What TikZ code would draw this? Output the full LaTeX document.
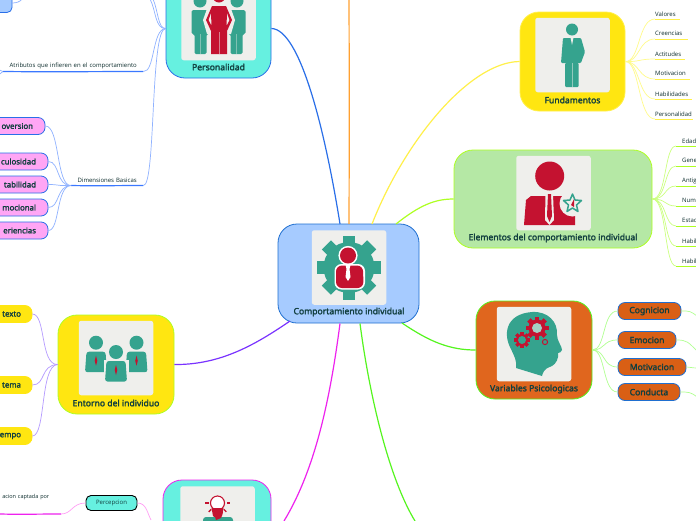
\documentclass[tikz,border=0pt]{standalone}
\usepackage{fontspec}
\setmainfont{Noto Sans}[AutoFakeBold=2.2]
\newfontfamily\smallfont{Open Sans}
\definecolor{teal1}{HTML}{35A38E}
\definecolor{red1}{HTML}{C41230}
\definecolor{tile}{HTML}{EFEFEC}
\definecolor{ink}{HTML}{123F3F}
\definecolor{cyan1}{HTML}{66F0E0}
\definecolor{blue1}{HTML}{A6CBFF}
\definecolor{blue2}{HTML}{2A6FE8}
\definecolor{blueline}{HTML}{3B78FF}
\definecolor{blue3}{HTML}{8FB2FF}
\definecolor{blue4}{HTML}{1F6FD0}
\definecolor{yellow1}{HTML}{FFE611}
\definecolor{yellow2}{HTML}{FFF04A}
\definecolor{yellow3}{HTML}{FFFB8A}
\definecolor{lime1}{HTML}{AEFF22}
\definecolor{lime2}{HTML}{CCFF80}
\definecolor{green1}{HTML}{B5E8A5}
\definecolor{green2}{HTML}{55F51F}
\definecolor{green3}{HTML}{B0FF90}
\definecolor{orange1}{HTML}{E0661E}
\definecolor{orange2}{HTML}{D95F15}
\definecolor{orangeline}{HTML}{FFA030}
\definecolor{purple1}{HTML}{7A33FF}
\definecolor{purple2}{HTML}{B59AFF}
\definecolor{pink1}{HTML}{FFA6F5}
\definecolor{mag1}{HTML}{EE22EE}
\definecolor{mag2}{HTML}{FFA0F5}
\tikzset{
  topicbox/.style={draw,line width=.8pt,rounded corners=19pt,inner sep=0pt},
  tilebox/.style={fill=tile,rounded corners=2.5pt,minimum width=74.5pt,minimum height=74.5pt,inner sep=0pt},
  toplabel/.style={font=\fontsize{8.6}{9}\selectfont\bfseries,text=ink,inner sep=0pt},
  pill/.style={draw,line width=.8pt,rounded corners=7pt,inner sep=0pt,minimum height=17pt,font=\fontsize{8.6}{9}\selectfont\bfseries,text=ink,align=right},
  leftpill/.style={pill,font=\fontsize{7.8}{9}\selectfont\bfseries},
  leaf/.style={font=\smallfont\fontsize{6}{7}\selectfont,text=ink!70!black,inner sep=0pt,anchor=south west,minimum height=10pt,align=left},
  main/.style={line width=1.2pt},
  thin branch/.style={line width=.7pt},
}
\newcommand{\gearshape}[6]{% cx cy router rinner teeth colour
  \fill[#6] (#1,#2) circle (#4);
  \foreach \k in {1,...,#5}{
    \pgfmathsetmacro{\ang}{360/#5*\k}
    \fill[#6,rotate around={\ang:(#1,#2)}] (#1-#3*.2,#2) rectangle (#1+#3*.2,#2-#3);
  }}
\newcommand{\suitman}[4]{% cx top-of-torso bottom colour
  \fill[#4,rounded corners=1.5pt] (#1-9,#2) -- (#1+9,#2) -- (#1+9,#2+24) -- (#1+6,#2+24) -- (#1+6,#3) -- (#1-6,#3) -- (#1-6,#2+24) -- (#1-9,#2+24) -- cycle;
  \fill[tile,opacity=.4] (#1-.4,#2+24) rectangle (#1+.4,#3);
}
\newcommand{\bustman}[3]{% cx cy-head colour
  \fill[teal1] (#1,#2) circle (7);
  \fill[teal1,rounded corners=2.5pt] (#1-9.5,#2+9) -- (#1+9.5,#2+9) -- (#1+11,#2+29.5) -- (#1-11,#2+29.5) -- cycle;
  \fill[red1] (#1,#2+13) -- (#1+1.3,#2+18) -- (#1,#2+23) -- (#1-1.3,#2+18) -- cycle;
}
\begin{document}
\begin{tikzpicture}[x=1pt,y=-1pt]
\useasboundingbox (0,0) rectangle (696,520);
\fill[white] (0,0) rectangle (696,520);
\begin{scope}
\clip (0,0) rectangle (696,520);

% Central
\node[topicbox,fill=blue1,draw=blue4,minimum width=141pt,minimum height=99pt] (center) at (348.5,273.5) {};
\node[tilebox] (ctile) at (349,267.5) {};
\node[toplabel] (clab) at (349,312) {Comportamiento individual};
\gearshape{349}{267.5}{32}{25.5}{8}{teal1}
\fill[white] (348,255.5) circle (9.6);
\fill[white,rounded corners=7pt] (334.5,264) -- (365,264) -- (365,289.5) -- (334.5,289.5) -- cycle;
\fill[red1] (348,255.5) circle (8);
\fill[red1,rounded corners=6pt] (336,265.5) -- (363,265.5) -- (363.5,288) -- (336,288) -- cycle;
\fill[white] (345.5,265) -- (350.5,265) -- (349.5,269) -- (350.5,277) -- (348,281) -- (345.5,277) -- (346.5,269) -- cycle;

% Personalidad
\node[topicbox,fill=cyan1,draw=blue2,minimum width=105pt,minimum height=99pt] (pers) at (218.5,28.5) {};
\node[tilebox] (ptile) at (218.5,23) {};
\node[toplabel] (plab) at (218.5,67) {Personalidad};
\fill[teal1] (200,1) circle (6.5);
\fill[teal1] (237,1) circle (6.5);
\suitman{200.5}{10}{54}{teal1}
\suitman{236.5}{10}{54}{teal1}
\fill[tile] (208,6) -- (230,6) -- (235,20) -- (231,34) -- (207,34) -- (203,20) -- cycle;
\fill[red1] (219,-4) circle (6.5);
\fill[red1,even odd rule] (212,6) -- (226,6) -- (232,20) -- (227,31) -- (227,54) -- (211,54) -- (211,31) -- (206,20) -- cycle
  (211,13) -- (208.5,20) -- (211.5,26) -- cycle (227,13) -- (229.5,20) -- (226.5,26) -- cycle;
\fill[tile,opacity=.5] (218.6,32) rectangle (219.4,54);

% Top-left box
\node[draw=blue2,fill=blue1,line width=.8pt,rounded corners=5pt,inner sep=0pt,minimum width=32pt,minimum height=24pt] (pbox) at (-4,0.5) {};

% Leaf Atributos
\node[leaf,minimum width=140pt,text width=140pt,align=center] (attr) at (3,71.5) {Atributos que infieren en el comportamiento};
\draw[draw=blueline,line width=1.2pt] (attr.south west) .. controls (50,72) and (100,71.5) .. (attr.south east);
\node[leaf,minimum width=72pt,text width=72pt,align=center] (dimb) at (71,185.5) {Dimensiones Basicas};
\draw[draw=blueline,line width=1.2pt] (dimb.south west) .. controls (95,186) and (120,185.5) .. (dimb.south east);

\node[leftpill,fill=pink1,draw=blue2,text width=54pt,minimum width=78pt] (d1) at (6,126) {oversion};
\node[leftpill,fill=pink1,draw=blue2,text width=57pt,minimum width=81pt] (d2) at (7.5,161.5) {culosidad};
\node[leftpill,fill=pink1,draw=blue2,text width=57pt,minimum width=81pt] (d3) at (7.5,184.5) {tabilidad};
\node[leftpill,fill=pink1,draw=blue2,text width=57pt,minimum width=81pt] (d4) at (7.5,207.5) {mocional};
\node[leftpill,fill=pink1,draw=blue2,text width=57pt,minimum width=81pt] (d5) at (7.5,230.5) {eriencias};

\coordinate (pj) at (pers.west);
\coordinate (t1) at (150,-1);
\coordinate (t2) at (153,-1);
\coordinate (t3) at (22,-1);
\coordinate (l1) at (-3,69);
\coordinate (l2) at (-3,76);
\coordinate (bx) at (12,3);
\draw[blue3,thin branch] (pj) .. controls (155,29) and (156,10) .. (t1);
\draw[blue3,thin branch] (pj) .. controls (158,29) and (158,10) .. (t2);
\draw[blue3,thin branch] (bx) .. controls (16,3) and (20,2) .. (t3);
\draw[blue3,thin branch] (attr.south west) -- (l1);
\draw[blue3,thin branch] (attr.south west) -- (l2);
\draw[blue3,thin branch] (pj) .. controls (152,29) and (155,72.5) .. (attr.south east);
\draw[blue3,thin branch] (pj) .. controls (150,29) and (156,186) .. (dimb.south east);
\foreach \n/\cy in {d1/126,d2/161.5,d3/184.5,d4/207.5,d5/230.5}{
  \draw[blue3,thin branch] (\n.east) .. controls (60,\cy) and (56,186) .. (dimb.south west);
}

% Entorno
\node[topicbox,fill=yellow1,draw=lime1,minimum width=116pt,minimum height=99pt] (ento) at (116,364.5) {};
\node[tilebox] (etile) at (116,358) {};
\node[toplabel] (elab) at (116,403) {Entorno del individuo};
\bustman{96}{342.7}{}
\bustman{136.5}{342.7}{}
\fill[tile] (116,352) circle (8.5);
\fill[tile] (103.5,359.5) rectangle (128.5,383);
\bustman{116}{352}{}
\node[leftpill,fill=yellow1,draw=yellow1,text width=38pt,minimum width=60pt] (e1) at (2,314) {texto};
\node[leftpill,fill=yellow1,draw=yellow1,text width=38pt,minimum width=60pt] (e2) at (2,385) {tema};
\node[leftpill,fill=yellow1,draw=yellow1,text width=38pt,minimum width=60pt] (e3) at (2,436) {empo};
\draw[purple2,thin branch] (e1.east) .. controls (46,314) and (40,365) .. (ento.west);
\draw[purple2,thin branch] (e2.east) .. controls (46,385) and (40,365) .. (ento.west);
\draw[purple2,thin branch] (e3.east) .. controls (46,436) and (40,365) .. (ento.west);

% Percepcion
\node[topicbox,fill=cyan1,draw=mag1,minimum width=108pt,minimum height=99pt] (perc) at (217,529.5) {};
\node[tilebox] (ltile) at (217.5,523.5) {};
\draw[red1,line width=1.1pt,fill=white] (217.5,503) circle (7);
\foreach \a in {0,-90,180,-45,-135}{
  \fill[red1,rotate around={\a:(217.5,503)}] (226.5,502.3) rectangle (230,503.7);
}
\fill[red1] (211.5,508) -- (223.5,508) -- (222,516) -- (219,518) -- (216,518) -- (213,516) -- cycle;
\fill[teal1,rounded corners=3pt] (203,517) rectangle (233,530);
\fill[red1] (213.5,512) -- (223,512) -- (221,518) -- (216,520) -- cycle;
\node[draw=black,fill=cyan1,line width=.9pt,rounded corners=5pt,inner sep=0pt,minimum width=51pt,minimum height=15pt,font=\smallfont\fontsize{6}{7}\selectfont,text=ink] (pc) at (111.5,503) {Percepcion};
\node[leaf,font=\smallfont\fontsize{5.5}{7}\selectfont,minimum width=49pt,text width=49pt,align=right] (pinfo) at (0,502.5) {acion captada por};
\coordinate (pl0) at (0,514);
\coordinate (pl1) at (61,514);
\coordinate (pr) at (151,520);
\draw[draw=mag1,line width=1.2pt] (pl0) .. controls (20,514.5) and (40,514) .. (pl1);
\draw[mag2,thin branch] (pl1) .. controls (72,514) and (72,503) .. (pc.west);
\draw[mag2,thin branch] (pc.east) .. controls (146,503) and (147,512) .. (pr);

% Fundamentos
\node[topicbox,fill=yellow1,draw=yellow2,minimum width=105pt,minimum height=99pt] (fund) at (572.5,61.5) {};
\node[tilebox] (ftile) at (572.5,55) {};
\node[toplabel] (flab) at (572.5,100) {Fundamentos};
\fill[teal1] (572,29.5) circle (6);
\fill[teal1,rounded corners=1pt] (563,38) -- (581,38) -- (585,52) -- (582,60) -- (581,63) -- (561,63) -- cycle;
\fill[teal1,rounded corners=1pt] (565,63) rectangle (578.5,87);
\fill[tile,opacity=.5] (571.6,63) rectangle (572.4,87);
\fill[tile] (570.5,37.5) -- (573.5,37.5) -- (572,45) -- cycle;

\foreach \n/\yy/\w/\t in {v1/19/25/Valores,v2/39/33/Creencias,v3/59/30/Actitudes,v4/79/35/Motivacion,v5/99/37/Habilidades,v6/119/38/Personalidad}{
  \node[leaf,minimum width=\w pt,text width=\w pt] (\n) at (655,\yy) {\t};
  \draw[yellow2,line width=1pt] (\n.south west) -- (\n.south east);
  \draw[yellow3,thin branch] (fund.east) .. controls (640,62) and (638,\yy) .. (\n.south west);
}

% Elementos
\node[topicbox,fill=green1,draw=lime1,minimum width=198pt,minimum height=98pt] (elem) at (553,199) {};
\node[tilebox] (mtile) at (553.5,193) {};
\node[toplabel] (mlab) at (553,238) {Elementos del comportamiento individual};
\fill[red1] (549.7,176) circle (14.5);
\fill[red1] (531,196) -- (568,196) -- (575,200) -- (575,225) -- (524,225) -- (526,200) -- cycle;
\fill[tile] (545.5,194) -- (553,194) -- (554,220) -- (549.5,225) -- (545,220) -- cycle;
\fill[red1] (548,194) -- (551,194) -- (552,216) -- (549.5,222) -- (547,216) -- cycle;
\fill[tile] (572.5,203.5) circle (13);
\draw[teal1,line width=1.5pt,fill=tile,line join=round] (572.5,194) -- (575,200) -- (581.5,200.5) -- (576.5,205) -- (578,211.5) -- (572.5,208) -- (567,211.5) -- (568.5,205) -- (563.5,200.5) -- (570,200) -- cycle;
\fill[red1] (574,199) -- (574,207) -- (571,205) -- cycle;

\foreach \n/\yy/\t in {m1/146/Edad,m2/166/Gene,m3/186/Antig,m4/206/Num,m5/226/Estac,m6/246/Habil,m7/266/Habil}{
  \node[leaf,minimum width=20pt,text width=20pt] (\n) at (682,\yy) {\t};
  \coordinate (\n s) at (676,\yy);
  \draw[lime1,line width=1pt] (\n s) -- (\n.south east);
  \draw[lime2,thin branch] (elem.east) .. controls (667,199) and (664,\yy) .. (\n s);
}

% Variables
\node[topicbox,fill=orange1,draw=green2,minimum width=116pt,minimum height=98pt] (vari) at (534,350) {};
\node[tilebox] (vtile) at (534,344) {};
\node[toplabel] (vlab) at (534,389) {Variables Psicologicas};
\fill[teal1] (532,312) .. controls (548,311) and (558,322) .. (557,335) .. controls (557,341) and (562,346) .. (562,350) .. controls (562,352) and (559,353) .. (558,353) .. controls (559,358) and (556,364) .. (552,366) .. controls (548,368) and (544,368) .. (542,376) -- (516,368) .. controls (517,360) and (514,356) .. (511,349) .. controls (503,335) and (505,314) .. (532,312) -- cycle;
\gearshape{537}{328}{11.5}{8.5}{8}{red1}
\fill[teal1!40!tile] (537,328) circle (5);
\gearshape{522}{340}{8}{6}{8}{red1}
\fill[teal1] (522,340) circle (4);
\draw[red1,line width=1pt] (545,342) circle (2.6);

\node[pill,fill=orange2,draw=blue4,minimum width=63pt,align=center] (c1) at (649.5,311) {Cognicion};
\node[pill,fill=orange2,draw=blue4,minimum width=58pt,align=center] (c2) at (647,340) {Emocion};
\node[pill,fill=orange2,draw=blue4,minimum width=68pt,align=center] (c3) at (652,367) {Motivacion};
\node[pill,fill=orange2,draw=blue4,minimum width=62pt,align=center] (c4) at (649,392) {Conducta};
\foreach \n/\yy in {c1/311,c2/340,c3/367,c4/392}{
  \draw[green3,thin branch] (vari.east) .. controls (606,350) and (602,\yy) .. (\n.west);
}
\coordinate (c1e) at (697,316);
\coordinate (c2e) at (697,351);
\coordinate (c3e) at (697,368);
\coordinate (c4e) at (697,397);
\draw[green3,thin branch] (c1.east) .. controls (690,311) and (690,311) .. (c1e);
\draw[green3,thin branch] (c2.east) .. controls (687,340) and (688,342) .. (c2e);
\draw[green3,thin branch] (c3.east) .. controls (690,367) and (692,368) .. (c3e);
\draw[green3,thin branch] (c4.east) .. controls (688,392) and (691,392) .. (c4e);

% Main connectors
\coordinate (cn1) at (340,224);
\coordinate (cn2) at (349,224);
\coordinate (cn3) at (372,224);
\coordinate (cn4) at (396,224);
\coordinate (cs1) at (402,323);
\coordinate (cs2) at (360,323.5);
\coordinate (cs3) at (340,323.5);
\coordinate (cs4) at (290,321);
\coordinate (topor) at (349,-1);
\coordinate (gend) at (415,521);
\coordinate (mend) at (284,521);
\draw[draw=blue2,main] (cn1) .. controls (325,130) and (300,29) .. (pers.east);
\draw[draw=orangeline,main] (cn2) .. controls (349.3,150) and (349.3,70) .. (topor);
\draw[draw=yellow2,main] (cn3) .. controls (405,140) and (470,62) .. (fund.west);
\draw[draw=lime1,main] (cn4) .. controls (420,205) and (435,199) .. (elem.west);
\draw[draw=green2,main] (cs1) .. controls (430,342) and (450,350) .. (vari.west);
\draw[draw=green2,main] (cs2) .. controls (370,400) and (390,480) .. (gend);
\draw[draw=mag1,main] (cs3) .. controls (330,400) and (315,470) .. (mend);
\draw[draw=purple1,main] (cs4) .. controls (255,345) and (220,365) .. (ento.east);
\end{scope}
\end{tikzpicture}
\end{document}
